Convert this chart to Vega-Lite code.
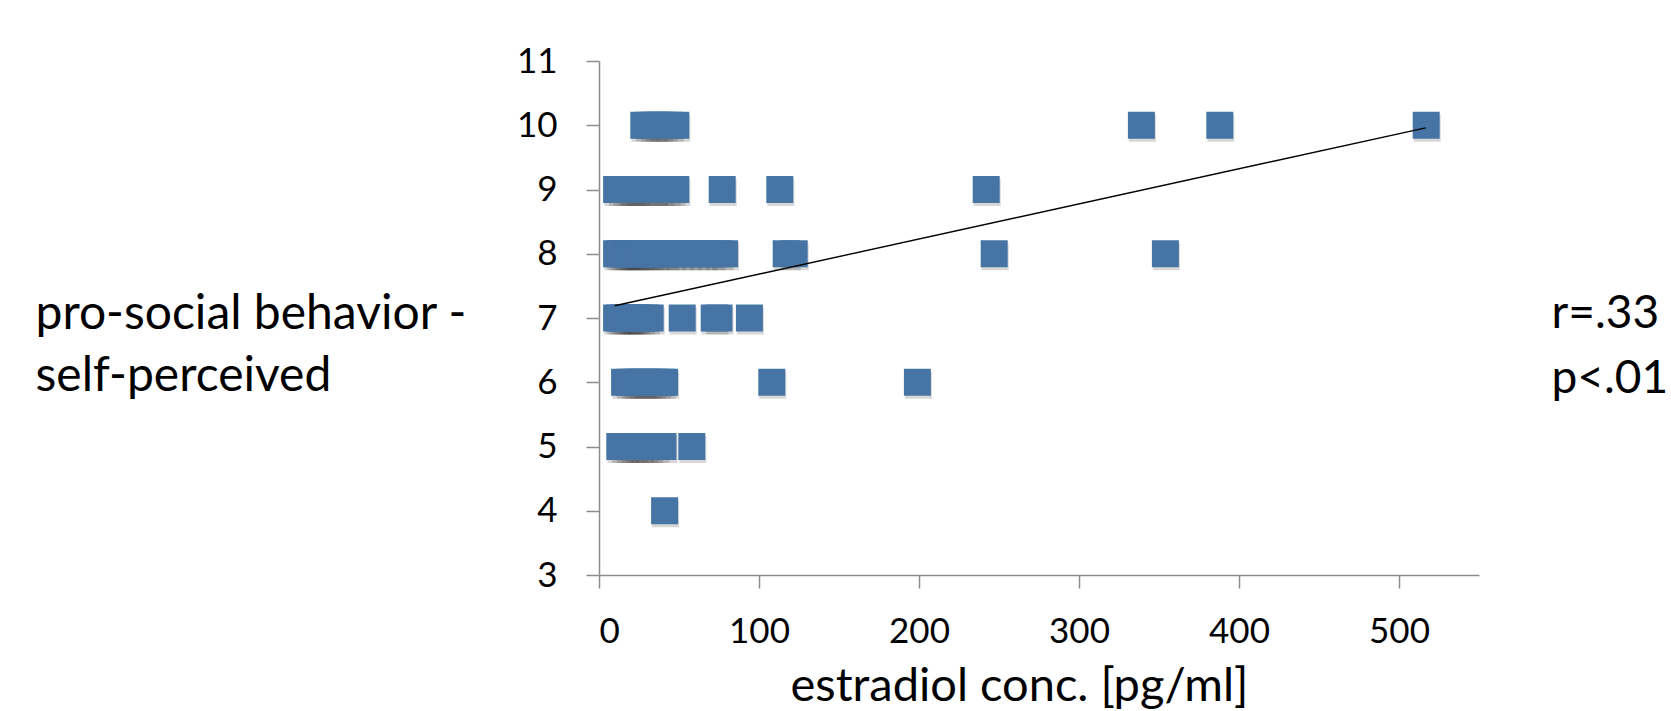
{
  "$schema": "https://vega.github.io/schema/vega-lite/v6.json",
  "width": 880,
  "height": 514,
  "autosize": {"type": "none"},
  "padding": {"left": 599, "top": 61, "right": 192, "bottom": 136},
  "background": "white",
  "config": {
    "view": {"stroke": null},
    "font": "Lato",
    "axis": {
      "domainColor": "#8c8c8c",
      "tickColor": "#8c8c8c",
      "domainWidth": 1.5,
      "tickWidth": 1.5,
      "tickSize": 13,
      "labelFontSize": 35,
      "labelColor": "black",
      "labelFont": "Lato",
      "titleFont": "Lato",
      "titleFontSize": 48,
      "titleFontWeight": "normal",
      "titleColor": "black",
      "grid": false
    }
  },
  "datasets": {
    "pts": [
      {"x": 28, "y": 10}, {"x": 31, "y": 10}, {"x": 34, "y": 10}, {"x": 37, "y": 10}, {"x": 40, "y": 10}, {"x": 44, "y": 10}, {"x": 48, "y": 10},
      {"x": 339, "y": 10}, {"x": 388, "y": 10}, {"x": 517, "y": 10},
      {"x": 11, "y": 9}, {"x": 14, "y": 9}, {"x": 17, "y": 9}, {"x": 20, "y": 9}, {"x": 22, "y": 9}, {"x": 25, "y": 9}, {"x": 28, "y": 9}, {"x": 31, "y": 9}, {"x": 34, "y": 9}, {"x": 38, "y": 9}, {"x": 42, "y": 9}, {"x": 45, "y": 9}, {"x": 48, "y": 9},
      {"x": 77, "y": 9}, {"x": 113, "y": 9}, {"x": 242, "y": 9},
      {"x": 11, "y": 8}, {"x": 13, "y": 8}, {"x": 15, "y": 8}, {"x": 17, "y": 8}, {"x": 19, "y": 8}, {"x": 21, "y": 8}, {"x": 23, "y": 8}, {"x": 25, "y": 8}, {"x": 27, "y": 8}, {"x": 29, "y": 8}, {"x": 32, "y": 8}, {"x": 35, "y": 8}, {"x": 38, "y": 8}, {"x": 41, "y": 8}, {"x": 45, "y": 8}, {"x": 50, "y": 8}, {"x": 55, "y": 8}, {"x": 60, "y": 8}, {"x": 65, "y": 8}, {"x": 70, "y": 8}, {"x": 75, "y": 8}, {"x": 78.5, "y": 8},
      {"x": 117, "y": 8}, {"x": 122, "y": 8}, {"x": 247, "y": 8}, {"x": 354, "y": 8},
      {"x": 11, "y": 7}, {"x": 13, "y": 7}, {"x": 15, "y": 7}, {"x": 17, "y": 7}, {"x": 19, "y": 7}, {"x": 21, "y": 7}, {"x": 23, "y": 7}, {"x": 26, "y": 7}, {"x": 29, "y": 7}, {"x": 32, "y": 7},
      {"x": 52, "y": 7}, {"x": 72, "y": 7}, {"x": 75, "y": 7}, {"x": 94, "y": 7},
      {"x": 16, "y": 6}, {"x": 19, "y": 6}, {"x": 22, "y": 6}, {"x": 24, "y": 6}, {"x": 27, "y": 6}, {"x": 30, "y": 6}, {"x": 33, "y": 6}, {"x": 36, "y": 6}, {"x": 39, "y": 6}, {"x": 41, "y": 6},
      {"x": 108, "y": 6}, {"x": 199, "y": 6},
      {"x": 13, "y": 5}, {"x": 16, "y": 5}, {"x": 19, "y": 5}, {"x": 22, "y": 5}, {"x": 25, "y": 5}, {"x": 28, "y": 5}, {"x": 31, "y": 5}, {"x": 35, "y": 5}, {"x": 40, "y": 5},
      {"x": 58, "y": 5},
      {"x": 41, "y": 4}
    ],
    "fit": [{"x": 9.8, "y": 7.19}, {"x": 516.7, "y": 9.96}]
  },
  "encoding": {
    "x": {
      "field": "x", "type": "quantitative",
      "scale": {"domain": [0, 550], "nice": false, "zero": false},
      "axis": {
        "values": [0, 100, 200, 300, 400, 500],
        "labelPadding": 26,
        "title": "estradiol conc. [pg/ml]",
        "titleFontSize": 47,
        "titleX": 420, "titleY": 125, "titleAlign": "center", "titleBaseline": "alphabetic"
      }
    }
  },
  "layer": [
    {
      "data": {"name": "pts"},
      "mark": {"type": "square", "size": 729, "color": "#222222", "opacity": 0.18, "yOffset": 3, "xOffset": 1},
      "encoding": {
        "y": {"field": "y", "type": "quantitative", "scale": {"domain": [3, 11], "nice": false, "zero": false}, "axis": null}
      }
    },
    {
      "data": {"name": "pts"},
      "mark": {"type": "square", "size": 729, "color": "#4674A4", "opacity": 1},
      "encoding": {
        "y": {
          "field": "y", "type": "quantitative",
          "scale": {"domain": [3, 11], "nice": false, "zero": false},
          "axis": {
            "values": [3, 4, 5, 6, 7, 8, 9, 10, 11],
            "labelPadding": 29,
            "title": ["pro-social behavior -", "self-perceived"],
            "titleAngle": 0, "titleAlign": "left", "titleBaseline": "alphabetic",
            "titleX": -564, "titleY": 267, "titleLineHeight": 62
          }
        }
      }
    },
    {
      "data": {"name": "fit"},
      "mark": {"type": "line", "color": "black", "strokeWidth": 1.4},
      "encoding": {
        "y": {
          "field": "y", "type": "quantitative",
          "scale": {"domain": [3, 11], "nice": false, "zero": false},
          "axis": {
            "orient": "right", "domain": false, "ticks": false, "labels": false, "grid": false,
            "title": ["r=.33", "p<.01"],
            "titleFontSize": 46,
            "titleAngle": 0, "titleAlign": "left", "titleBaseline": "alphabetic",
            "titleX": 72, "titleY": 266, "titleLineHeight": 65
          }
        }
      }
    }
  ],
  "resolve": {"axis": {"y": "independent"}}
}
